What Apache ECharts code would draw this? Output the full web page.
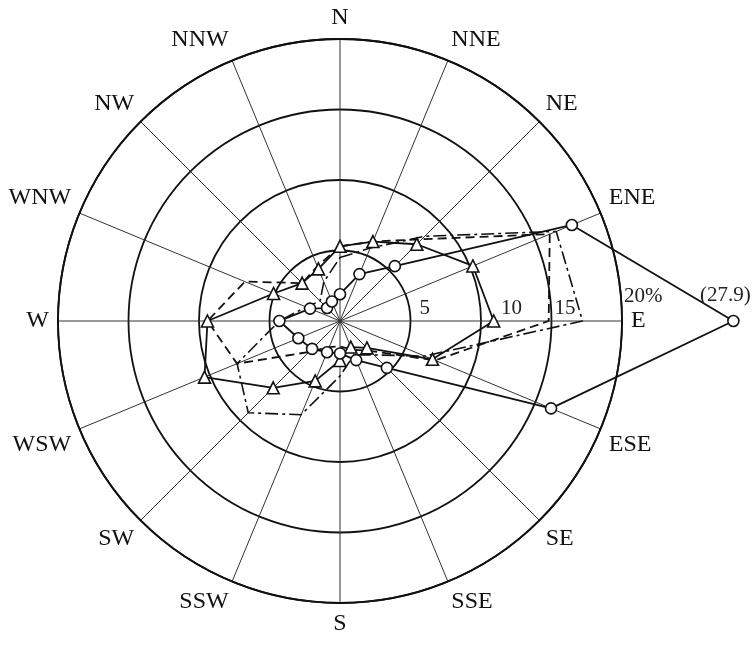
<!DOCTYPE html>
<html>
<head>
<meta charset="utf-8">
<script src="https://cdn.jsdelivr.net/npm/echarts@6/dist/echarts.min.js"></script>
<style>
html,body{margin:0;padding:0;background:#fff;}
#chart{width:755px;height:646px;}
</style>
</head>
<body>
<div id="chart"></div>
<script>
// 16 wind directions, clockwise from North
const directions = ['N','NNE','NE','ENE','E','ESE','SE','SSE','S','SSW','SW','WSW','W','WNW','NW','NNW'];

// frequency (%) per direction, same order as directions
const seriesCircle   = [1.9, 3.6, 5.5, 17.8, 27.9, 16.2, 4.7, 3.0, 2.3, 2.4, 2.8, 3.2, 4.3, 2.3, 1.3, 1.5];
const seriesTriangle = [5.3, 6.1, 7.7, 10.2, 10.9, 7.1, 2.7, 2.0, 2.8, 4.6, 6.7, 10.4, 9.4, 5.1, 3.8, 4.0];
const seriesDashed   = [5.3, 6.1, 8.2, 16.1, 14.8, 7.3, 3.0, 2.2, 1.8, 2.0, 3.1, 7.9, 9.4, 7.3, 3.8, 4.2];
const seriesDashDot  = [4.5, 5.6, 8.5, 16.6, 17.2, 6.5, 3.4, 2.6, 3.9, 7.2, 9.2, 7.9, 4.3, 2.6, 2.0, 3.0];

// radius tick values and their labels
const radiusTicks = [5, 10, 15, 20];
const radiusTickLabels = ['5', '10', '15', '20%'];

// angle axis is a value axis in degrees, starting at E (so radius labels lie along E), clockwise
const STEP = 360 / directions.length;
const eIdx = directions.indexOf('E');
function dirAngle(i) { return ((i - eIdx + directions.length) % directions.length) * STEP; }

function buildData(vals, labelDir) {
  const d = directions.map((dir, i) => {
    const item = { value: [vals[i], dirAngle(i)] };
    if (dir === labelDir) {
      item.label = {
        show: true, position: 'top', distance: 9, offset: [-8, 0],
        formatter: '(' + vals[i] + ')',
        fontFamily: 'Liberation Serif', fontSize: 21, color: '#222'
      };
    }
    return item;
  });
  d.push({ value: [vals[0], dirAngle(0)], symbol: 'none' });
  return d;
}

const chart = echarts.init(document.getElementById('chart'), null, { renderer: 'canvas' });
const font = 'Liberation Serif';
const CX = 340, CY = 321, R = 282, RMAX = 20;
// second (invisible) polar with the same scale but a larger extent, so values above 20% are not clipped
const RMAX2 = 30;

chart.setOption({
  backgroundColor: '#fff',
  animation: false,
  polar: [
    { center: [CX, CY], radius: R },
    { center: [CX, CY], radius: R * RMAX2 / RMAX }
  ],
  angleAxis: [
    {
      polarIndex: 0,
      type: 'value',
      min: 0, max: 360, interval: STEP,
      startAngle: 0,
      clockwise: true,
      axisLine: { show: true, lineStyle: { color: '#111', width: 1.8 } },
      axisTick: { show: false },
      splitLine: { show: true, lineStyle: { color: '#333', width: 1 } },
      axisLabel: {
        margin: 9, fontFamily: font, fontSize: 24, color: '#111',
        formatter: function (v) {
          if (v >= 360) return '';
          const k = Math.round(v / STEP);
          return directions[(k + eIdx) % directions.length];
        }
      }
    },
    {
      polarIndex: 1,
      type: 'value',
      min: 0, max: 360, interval: STEP,
      startAngle: 0,
      clockwise: true,
      axisLine: { show: false }, axisTick: { show: false },
      splitLine: { show: false }, axisLabel: { show: false }
    }
  ],
  radiusAxis: [
    {
      polarIndex: 0,
      type: 'value',
      min: 0, max: RMAX, interval: 5,
      axisLine: { show: false },
      axisTick: { show: false },
      splitLine: { show: true, lineStyle: { color: '#111', width: 1.8 } },
      axisLabel: {
        align: 'left', verticalAlign: 'bottom', margin: 2,
        fontFamily: font, fontSize: 21, color: '#222',
        formatter: function (v) {
          const k = radiusTicks.indexOf(v);
          if (k < 0) return '';
          return '{r' + v + '|' + radiusTickLabels[k] + '}';
        },
        rich: {
          r5: { padding: [0, 0, 0, 9] },
          r10: { padding: [0, 0, 0, 20] },
          r15: { padding: [0, 0, 0, 3] },
          r20: { padding: [0, 0, 12, 2] }
        }
      }
    },
    {
      polarIndex: 1,
      type: 'value',
      min: 0, max: RMAX2, interval: 5,
      axisLine: { show: false }, axisTick: { show: false },
      splitLine: { show: false }, axisLabel: { show: false }
    }
  ],
  series: [
    {
      type: 'line', coordinateSystem: 'polar', polarIndex: 1, z: 5,
      data: buildData(seriesDashed),
      symbol: 'none',
      lineStyle: { color: '#111', width: 1.8, type: [9, 5] }
    },
    {
      type: 'line', coordinateSystem: 'polar', polarIndex: 1, z: 5,
      data: buildData(seriesDashDot),
      symbol: 'none',
      lineStyle: { color: '#111', width: 1.6, type: [13, 4, 3, 4] }
    },
    {
      type: 'line', coordinateSystem: 'polar', polarIndex: 1, z: 6,
      data: buildData(seriesTriangle),
      symbol: 'triangle', symbolSize: 12,
      itemStyle: { color: '#fff', borderColor: '#111', borderWidth: 1.6 },
      lineStyle: { color: '#111', width: 1.8 }
    },
    {
      type: 'line', coordinateSystem: 'polar', polarIndex: 1, z: 7,
      data: buildData(seriesCircle, 'E'),
      symbol: 'circle', symbolSize: 11,
      itemStyle: { color: '#fff', borderColor: '#111', borderWidth: 1.6 },
      lineStyle: { color: '#111', width: 1.8 }
    }
  ]
});
</script>
</body>
</html>
